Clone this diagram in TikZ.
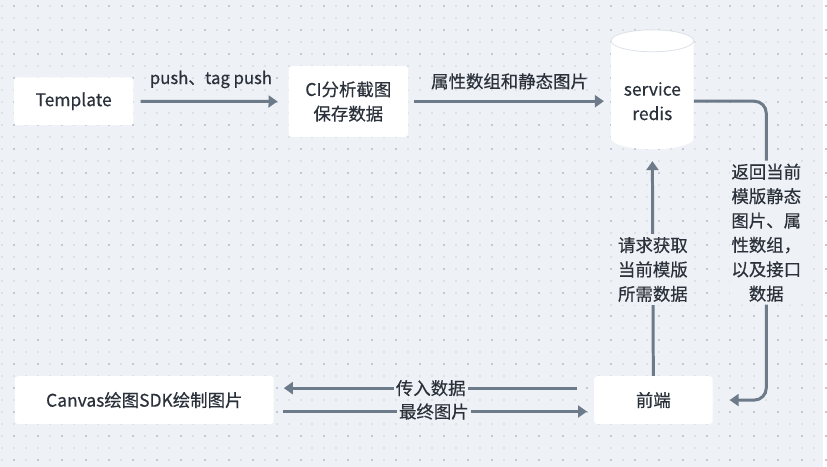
\documentclass[tikz,border=0pt]{standalone}
\usepackage{fontspec}
\setmainfont{Noto Sans CJK SC}[UprightFeatures={FakeBold=0.5}]
\usetikzlibrary{arrows.meta,calc}

\definecolor{bgc}{HTML}{EEF1F5}
\definecolor{dotlight}{HTML}{DCE1E8}
\definecolor{dotdark}{HTML}{C0C9D5}
\definecolor{linec}{HTML}{6C7A89}
\definecolor{textc}{HTML}{2B313B}
\definecolor{rimc}{HTML}{DDE2E8}

\begin{document}
\begin{tikzpicture}
	[x=1pt,y=-1pt,>={Triangle[length=9pt,width=12pt]},
		every node/.style={text=textc,font=\fontsize{17.5}{24.5}\selectfont},
		box node/.style={rectangle,rounded corners=3pt,fill=white,inner sep=0pt,align=center},
		flow/.style={->,draw=linec,line width=3pt},
		tag node/.style={fill=bgc,inner xsep=2pt,inner ysep=3pt,align=center}]

	% background with dotted grid
	\fill[bgc] (0,0) rectangle (827,469);
	\foreach \i in {0,...,68}
		\foreach \j in {0,...,38}
			\fill[dotlight] ({2+12*\i-1},{6+12*\j-1}) rectangle ++(2,2);
	\foreach \i in {0,...,34}
		\foreach \j in {0,...,19}
			\fill[dotdark] ({14+24*\i-1},{6+24*\j-1}) rectangle ++(2,2);

	% redis cylinder
	\fill[white] (614,41) -- (614,139) arc[start angle=180,end angle=360,x radius=41.5pt,y radius=11pt]
		-- (697,41) arc[start angle=0,end angle=180,x radius=41.5pt,y radius=11pt] -- cycle;
	\draw[rimc,line width=0.8pt] (655.5,41) ellipse[x radius=41.5pt,y radius=11pt];

	\node[box node,minimum width=120pt,minimum height=48pt]  (tpl)    at (74,101.7)   {Template};
	\node[box node,minimum width=120pt,minimum height=71pt]  (ci)     at (350,102)    {CI分析截图\\保存数据};
	\node[inner sep=0pt,align=center,minimum width=83pt,minimum height=96.6pt] (redis) at (655.5,101.7) {service\\redis};
	\node[box node,minimum width=119pt,minimum height=48pt]  (fe)     at (656.5,402)  {前端};
	\node[box node,minimum width=260pt,minimum height=48pt]  (canvas) at (145,402)    {Canvas绘图SDK绘制图片};
	\coordinate (turn) at (770,250);

	\draw[flow,shorten <=7pt,shorten >=11pt] (tpl) -- node[midway,yshift=22pt,font=\fontsize{16.8}{20}\selectfont] {push、tag push} (ci);
	\draw[flow,shorten <=6pt,shorten >=7pt] (ci.east |- redis.west) -- node[midway,yshift=20pt] {属性数组和静态图片} (redis.west);
	\draw[flow,rounded corners=12pt,shorten >=17pt] (redis.east) -- (redis.east -| turn)
		-- node[tag node,pos=0.44] {返回当前\\模版静态\\图片、属\\性数组，\\以及接口\\数据} (fe.east -| turn) -- (fe.east);
	\draw[flow,shorten >=11.7pt] (fe.north) -- node[tag node,pos=0.47] {请求获取\\当前模版\\所需数据} (redis.south);
	\draw[flow,shorten <=17pt,shorten >=10pt] ([yshift=12pt]fe.west) -- node[tag node,pos=0.51,inner ysep=0pt] {传入数据} ([yshift=12pt]canvas.east);
	\draw[flow,shorten <=9pt,shorten >=7pt] ([yshift=-11.5pt]canvas.east) -- node[tag node,pos=0.5,inner ysep=0pt] {最终图片} ([yshift=-11.5pt]fe.west);

\end{tikzpicture}
\end{document}
